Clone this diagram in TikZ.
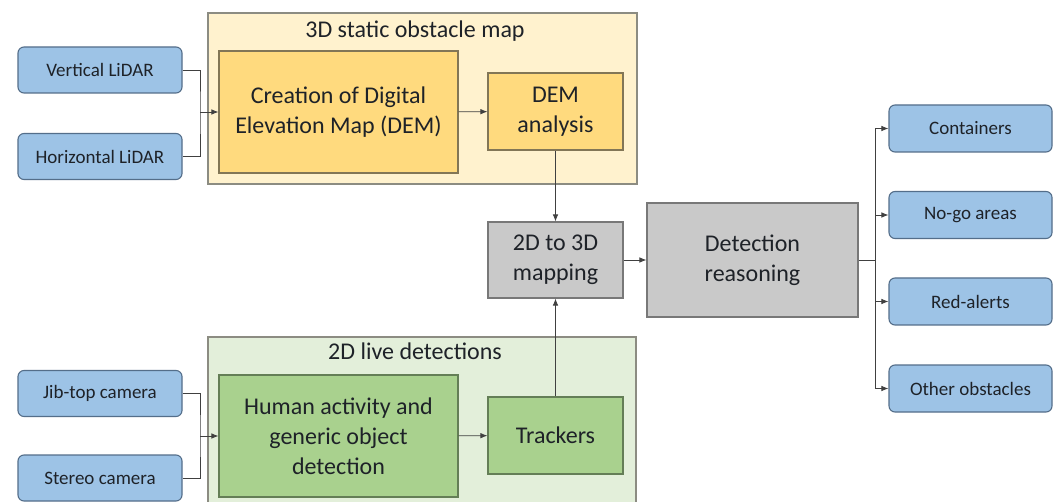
\documentclass[tikz,border=0pt]{standalone}
\usepackage{fontspec}
\setmainfont{Carlito}
\usetikzlibrary{arrows.meta}

\definecolor{sensorfill}{RGB}{157,195,230}
\definecolor{sensordraw}{RGB}{84,110,138}
\definecolor{mapback}{RGB}{255,242,206}
\definecolor{mapfill}{RGB}{255,218,126}
\definecolor{mapdraw}{RGB}{130,118,86}
\definecolor{liveback}{RGB}{227,239,218}
\definecolor{livefill}{RGB}{169,209,142}
\definecolor{livedraw}{RGB}{100,126,86}
\definecolor{fusefill}{RGB}{201,201,201}
\definecolor{fusedraw}{RGB}{120,120,120}
\definecolor{groupdraw}{RGB}{140,140,130}
\definecolor{inktext}{RGB}{30,34,40}

\tikzset{
    sensor/.style={draw=sensordraw, fill=sensorfill, rounded corners=6pt, line width=1.1pt, text=inktext,
        minimum width=164pt, minimum height=46pt, inner sep=0pt, font=\fontsize{19}{22}\selectfont},
    group/.style={draw=groupdraw, line width=1.1pt, inner sep=0pt},
    block/.style={line width=1.1pt, inner sep=0pt, align=center, text=inktext, font=\fontsize{24}{30}\selectfont},
    flow/.style={draw=black!75, line width=0.8pt, -{Latex[length=7pt,width=5.5pt]}},
    wire/.style={draw=black!75, line width=0.8pt}
}

\begin{document}
\begin{tikzpicture}[x=1pt, y=-1pt]
            \useasboundingbox (0,0) rectangle (1057,502);
            \fill[white] (0,0) rectangle (1057,502);

            \node[group, fill=mapback, minimum width=429pt, minimum height=171pt] (mapgroup) at (422.5,98.5){};
            \node[group, fill=liveback, minimum width=428pt, minimum height=170pt] (livegroup) at (422,422){};
            \node[text=inktext, font=\fontsize{24}{30}\selectfont] (maptitle) at (415,31){3D static obstacle map};
            \node[text=inktext, font=\fontsize{24}{30}\selectfont] (livetitle) at (415,351){2D live detections};

            \node[sensor] (vlidar) at (100,70){Vertical LiDAR};
            \node[sensor] (hlidar) at (100,156.5){Horizontal LiDAR};
            \node[sensor] (jibcam) at (100,393.5){Jib-top camera};
            \node[sensor] (stereocam) at (100,478){Stereo camera};

            \node[block, draw=mapdraw, fill=mapfill, minimum width=239pt, minimum height=122pt] (demcreate) at (338.5,112){Creation of Digital\\Elevation Map (DEM)};
            \node[block, draw=mapdraw, fill=mapfill, minimum width=135pt, minimum height=77pt] (demanalysis) at (555.5,111.5){DEM\\analysis};
            \node[block, draw=livedraw, fill=livefill, minimum width=239pt, minimum height=122pt] (humandet) at (338.5,436){Human activity and\\generic object\\detection};
            \node[block, draw=livedraw, fill=livefill, minimum width=135pt, minimum height=77pt] (trackers) at (555.5,435.5){Trackers};

            \node[block, draw=fusedraw, fill=fusefill, minimum width=135pt, minimum height=76pt] (mapping) at (555.5,260){2D to 3D\\mapping};
            \node[block, draw=fusedraw, fill=fusefill, minimum width=211pt, minimum height=114pt] (reasoning) at (752.5,260){Detection\\reasoning};

            \node[sensor, minimum width=163pt, minimum height=47pt] (containers) at (970.5,128.5){Containers};
            \node[sensor, minimum width=163pt, minimum height=47pt] (nogo) at (970.5,215){No-go areas};
            \node[sensor, minimum width=163pt, minimum height=47pt] (redalerts) at (970.5,301.5){Red-alerts};
            \node[sensor, minimum width=163pt, minimum height=47pt] (otherobs) at (970.5,388.5){Other obstacles};

            \coordinate (lidarjoin) at (200,112);
            \coordinate (camjoin) at (200,436);
            \coordinate (outbus) at (875,260);

            \draw[wire] (vlidar.east) -| (lidarjoin) |- (hlidar.east);
            \draw[flow] (lidarjoin) -- (demcreate.west);
            \draw[wire] (jibcam.east) -| (camjoin) |- (stereocam.east);
            \draw[flow] (camjoin) -- (humandet.west);

            \draw[flow] (demcreate) -- (demanalysis);
            \draw[flow] (humandet) -- (trackers);
            \draw[flow] (demanalysis) -- (mapping);
            \draw[flow] (trackers) -- (mapping);
            \draw[flow] (mapping) -- (reasoning);

            \draw[wire] (reasoning.east) -- (outbus);
            \foreach \out in {containers, nogo, redalerts, otherobs}
                \draw[flow] (outbus) |- (\out.west);
        \end{tikzpicture}
\end{document}
